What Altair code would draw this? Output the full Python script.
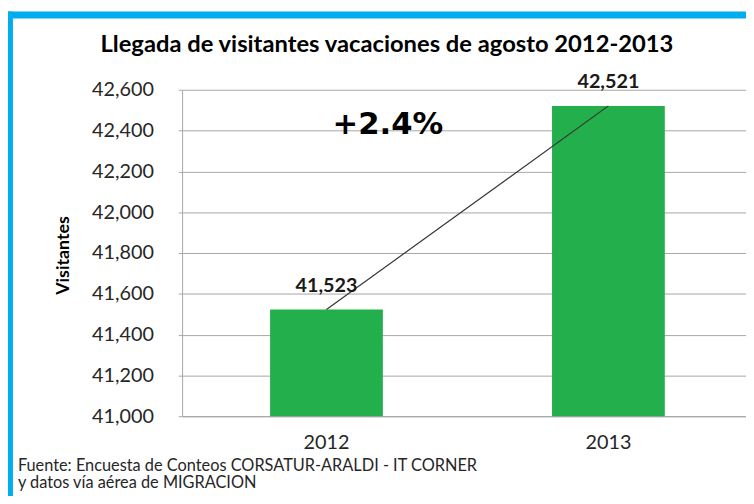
import altair as alt
import pandas as pd

# ---- data ----
years = ["2012", "2013"]
visitors = [41523, 42521]
y_ticks = [41000, 41200, 41400, 41600, 41800, 42000, 42200, 42400, 42600]
title_text = "Llegada de visitantes  vacaciones de agosto 2012-2013"
growth_label = ["+2.4%"]
source_text = ["Fuente: Encuesta de Conteos  CORSATUR-ARALDI - IT CORNER\ny datos vía aérea de MIGRACION"]

df = pd.DataFrame({"year": years, "visitors": visitors})

W, H = 570, 330
GRID = "#A6A6A6"
BLUE = "#00AEEF"
GREEN = "#23AF4B"

x_enc = alt.X(
    "year:N",
    scale=alt.Scale(paddingInner=0.6, paddingOuter=0.3, align=0.52),
    axis=alt.Axis(title=None, labelAngle=0, labelFontSize=20, labelPadding=17,
                  ticks=False, domainColor=GRID, labelColor="#262626", labelFont="Lato"),
)
y_enc = alt.Y(
    "visitors:Q",
    scale=alt.Scale(domain=[41000, 42600], zero=False, nice=False),
    axis=alt.Axis(values=y_ticks, format=",d", title="Visitantes",
                  titleFont="Lato", titleFontSize=18, titleFontWeight="bold",
                  titleColor="#000000", titleX=-120, titleY=167, titleAngle=270,
                  titleAlign="center", titleBaseline="middle",
                  labelFont="Lato", labelFontSize=20, labelPadding=25, labelColor="#262626",
                  tickSize=4, tickColor=GRID, gridColor=GRID, domainColor=GRID),
)

base = alt.Chart(df)
bars = base.mark_bar(color=GREEN, clip=True).encode(x=x_enc, y=y_enc)
trend = base.mark_line(color="#333333", strokeWidth=1.2).encode(x="year:N", y="visitors:Q")
labels = base.mark_text(dy=-18, baseline="alphabetic", fontSize=20, font="Lato",
                        fontWeight="bold", color="#1a1a1a").encode(
    x="year:N", y="visitors:Q", text=alt.Text("visitors:Q", format=",d"))

growth = alt.Chart(pd.DataFrame({"t": growth_label})).mark_text(
    font="DejaVu Sans", fontWeight="bold", fontSize=31, align="center", baseline="middle",
    color="#000000").encode(x=alt.value(208), y=alt.value(36), text="t:N")

title = alt.Chart(pd.DataFrame({"t": [title_text]})).mark_text(
    font="Lato", fontWeight="bold", fontSize=24, align="center", baseline="middle",
    color="#000000").encode(x=alt.value(207), y=alt.value(-45), text="t:N")

source = alt.Chart(pd.DataFrame({"t": source_text})).mark_text(
    font="Lato", fontSize=16.5, align="left", baseline="alphabetic", lineBreak="\n",
    lineHeight=18, color="#262626").encode(x=alt.value(-166), y=alt.value(385), text="t:N")

frame_df = pd.DataFrame({"k": [0]})
top_border = alt.Chart(frame_df).mark_rect(color=BLUE).encode(
    x=alt.value(-176), x2=alt.value(W), y=alt.value(-79), y2=alt.value(-72))
left_border = alt.Chart(frame_df).mark_rect(color=BLUE).encode(
    x=alt.value(-176), x2=alt.value(-171), y=alt.value(-79), y2=alt.value(420))

chart = alt.layer(bars, trend, labels, growth, title, source, top_border, left_border).properties(
    width=W, height=H, autosize="none",
    padding={"left": 176, "top": 80, "right": 0, "bottom": 78},
    background="white",
).configure_view(stroke=None)

chart.save("out.html", embed_options={"renderer": "svg", "actions": False})
